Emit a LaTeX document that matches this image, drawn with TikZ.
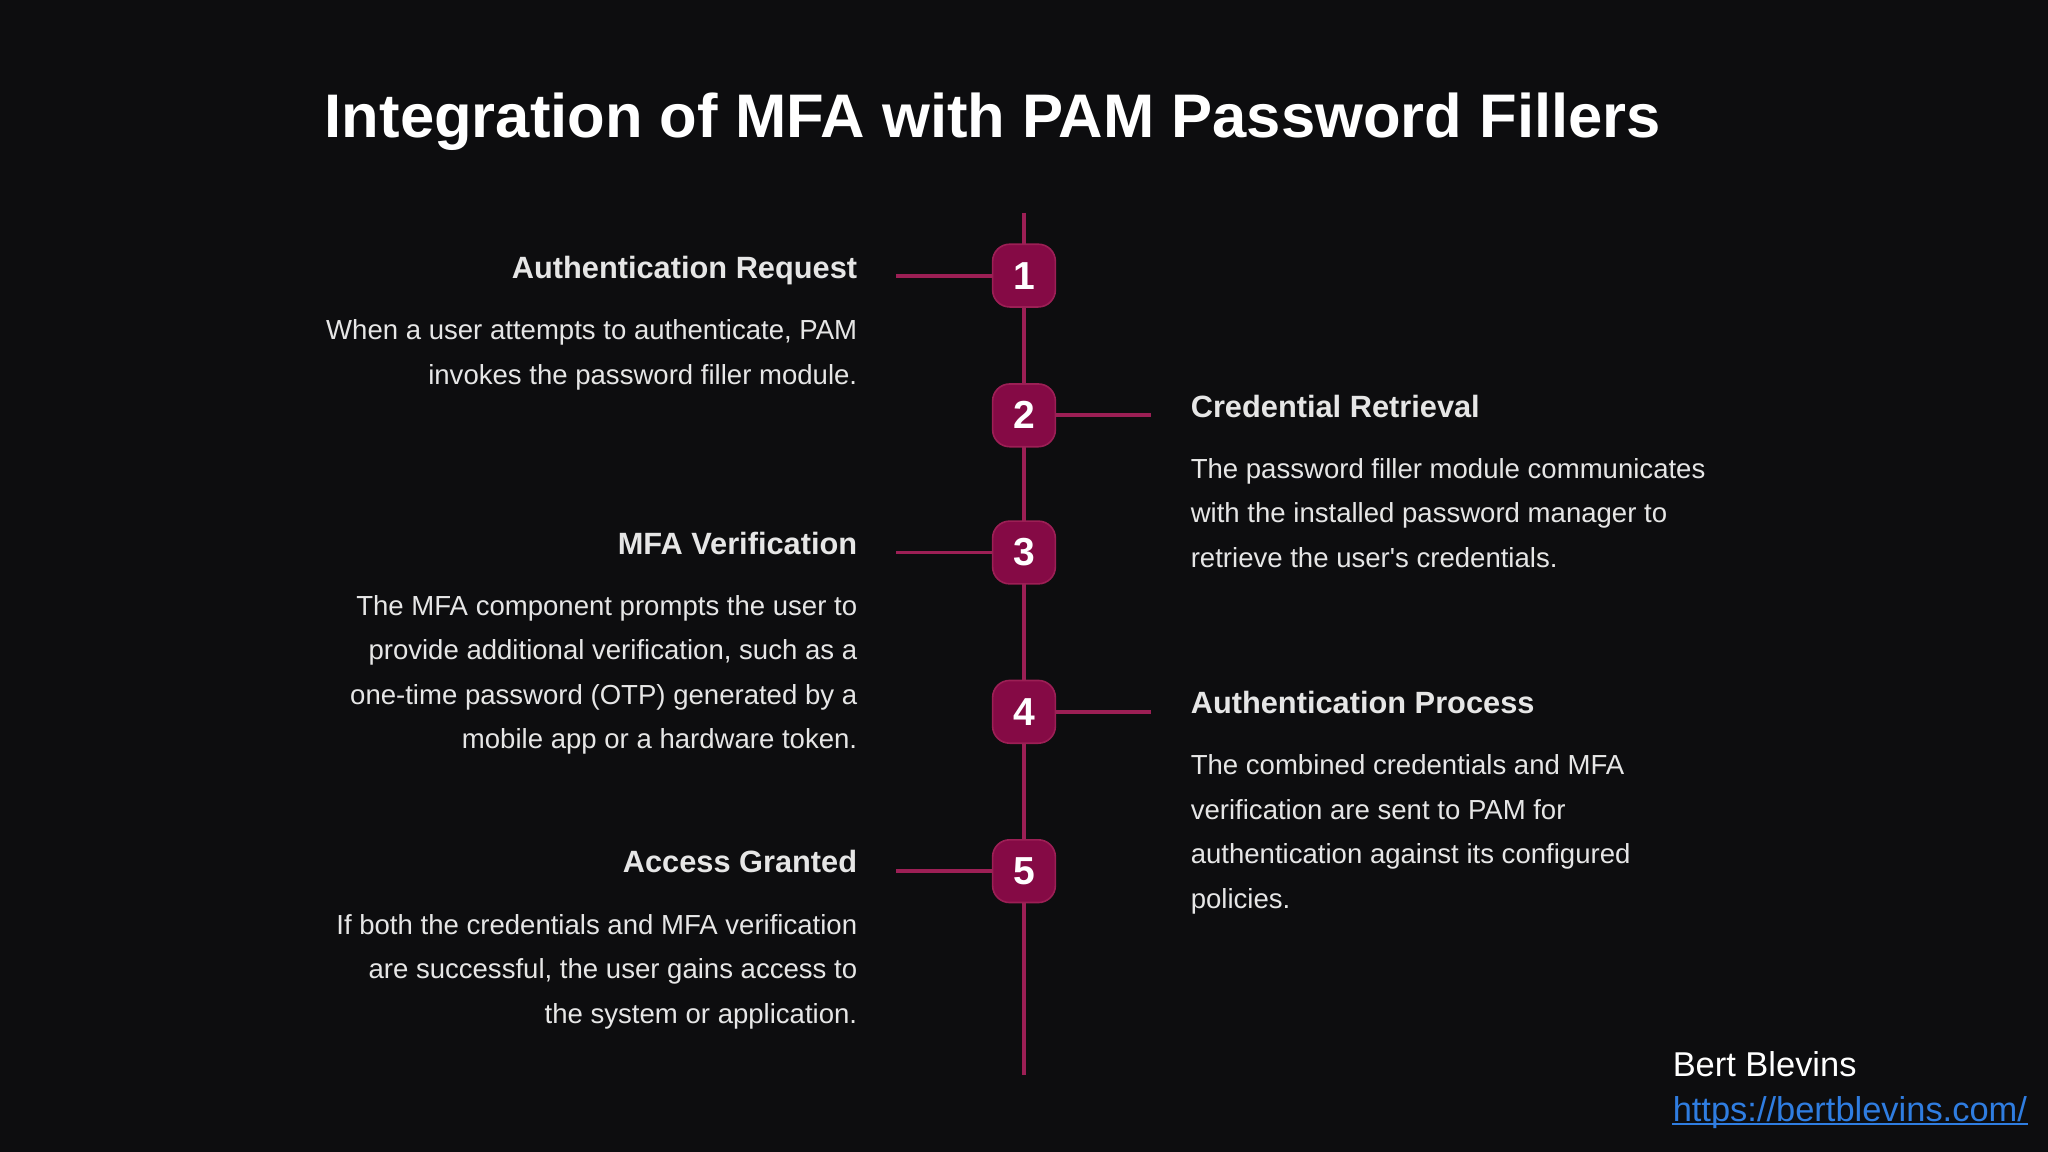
\documentclass[tikz,border=0pt]{standalone}
\usepackage{fontspec}
\setmainfont{Liberation Sans}
\begin{document}
\begin{tikzpicture}[x=0.01cm,y=-0.01cm]
\definecolor{bg}{HTML}{0D0D0F}
\definecolor{line}{HTML}{9C1F55}
\definecolor{boxf}{HTML}{850A45}
\definecolor{txt}{HTML}{E6E6E6}
\definecolor{lnk}{HTML}{2F7DE1}
\tikzset{
 numbox/.style={draw=line,fill=boxf,line width=0.35pt,rounded corners=1.3mm,minimum width=0.48cm,minimum height=0.48cm,text=white,font=\fontsize{8.5}{10}\selectfont\bfseries,inner sep=0pt},
 conn/.style={draw=line,line width=0.85pt},
 head/.style={text=txt,font=\fontsize{6.7}{8}\selectfont\bfseries,inner sep=0pt},
 body/.style={text=txt,font=\fontsize{6.0}{7}\selectfont,inner sep=0pt},
}
\fill[bg] (0,0) rectangle (1568,882);
\useasboundingbox (0,0) rectangle (1568,882);
\node[text=white,font=\fontsize{13.4}{16}\selectfont\bfseries,inner sep=0pt,anchor=west] (title) at (248,93) {Integration of MFA with PAM Password Fillers};
\coordinate (top) at (784,163);
\coordinate (bot) at (784,823);
\draw[conn] (top) -- (bot);
\foreach \n/\y in {1/211,2/318,3/423,4/545,5/667}{
 \node[numbox] (b\n) at (784,\y) {\n};
}
\foreach \n/\y in {1/211,3/423,5/667}{
 \coordinate (l\n) at (686,\y);
 \draw[conn] (l\n) -- (b\n.west);
}
\foreach \n/\y in {2/318,4/545}{
 \coordinate (r\n) at (881,\y);
 \draw[conn] (b\n.east) -- (r\n);
}
% left texts
\node[head,anchor=mid east] (h1) at (657,204) {Authentication Request};
\node[body,anchor=mid east] (t1a) at (657,251) {When a user attempts to authenticate, PAM};
\node[body,anchor=mid east] (t1b) at (657,285) {invokes the password filler module.};
\node[head,anchor=mid east] (h3) at (657,415) {MFA Verification};
\node[body,anchor=mid east] (t3a) at (657,462) {The MFA component prompts the user to};
\node[body,anchor=mid east] (t3b) at (657,496) {provide additional verification, such as a};
\node[body,anchor=mid east] (t3c) at (657,530) {one-time password (OTP) generated by a};
\node[body,anchor=mid east] (t3d) at (657,564) {mobile app or a hardware token.};
\node[head,anchor=mid east] (h5) at (657,659) {Access Granted};
\node[body,anchor=mid east] (t5a) at (657,706) {If both the credentials and MFA verification};
\node[body,anchor=mid east] (t5b) at (657,740) {are successful, the user gains access to};
\node[body,anchor=mid east] (t5c) at (657,774) {the system or application.};
% right texts
\node[head,anchor=mid west] (h2) at (911,310) {Credential Retrieval};
\node[body,anchor=mid west] (t2a) at (911,357) {The password filler module communicates};
\node[body,anchor=mid west] (t2b) at (911,391) {with the installed password manager to};
\node[body,anchor=mid west] (t2c) at (911,425) {retrieve the user\textquotesingle s credentials.};
\node[head,anchor=mid west] (h4) at (911,537) {Authentication Process};
\node[body,anchor=mid west] (t4a) at (911,584) {The combined credentials and MFA};
\node[body,anchor=mid west] (t4b) at (911,618) {verification are sent to PAM for};
\node[body,anchor=mid west] (t4c) at (911,652) {authentication against its configured};
\node[body,anchor=mid west] (t4d) at (911,686) {policies.};
% footer
\node[text=white,font=\fontsize{7.5}{9}\selectfont,inner sep=0pt,anchor=mid west] (auth) at (1280,815) {Bert Blevins};
\node[text=lnk,font=\fontsize{7.5}{9}\selectfont,inner sep=0pt,anchor=mid west] (url) at (1280,849) {https://bertblevins.com/};
\draw[lnk,line width=0.4pt] ([yshift=-0.6pt]url.base west) -- ([yshift=-0.6pt]url.base east);
\end{tikzpicture}
\end{document}
